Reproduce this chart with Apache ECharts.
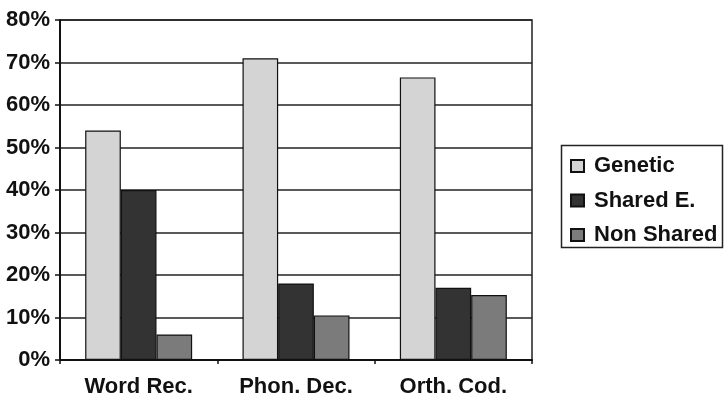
<!DOCTYPE html>
<html>
<head>
<meta charset="utf-8">
<script src="https://cdn.jsdelivr.net/npm/echarts@6/dist/echarts.min.js"></script>
<style>
  html, body { margin: 0; padding: 0; background: #fff; }
  #chart { width: 724px; height: 399px; }
</style>
</head>
<body>
<div id="chart"></div>
<script>
// Variance components (%) for three reading measures
const categories = ['Word Rec.', 'Phon. Dec.', 'Orth. Cod.'];
const seriesNames = ['Genetic', 'Shared E.', 'Non Shared'];
const genetic = [54, 71, 66.5];
const sharedE = [40, 18, 17];
const nonShared = [6, 10.5, 15.3];
const yTicks = [0, 10, 20, 30, 40, 50, 60, 70, 80];

const fills = ['#d4d4d4', '#333333', '#7b7b7b'];
const font = '"Liberation Sans", Arial, sans-serif';

const chart = echarts.init(document.getElementById('chart'), null, { renderer: 'canvas' });

const makeSeries = (name, data, color) => ({
  name: name,
  type: 'bar',
  data: data,
  barGap: '0%',
  barCategoryGap: '32%',
  itemStyle: { color: color, borderColor: '#111', borderWidth: 1.2 }
});

chart.setOption({
  animation: false,
  backgroundColor: '#fff',
  grid: {
    left: 60, right: 192, top: 20, bottom: 39,
    show: true, borderColor: '#222', borderWidth: 1.5, backgroundColor: 'transparent'
  },
  // frame around the legend
  graphic: [{
    type: 'rect',
    shape: { x: 561.5, y: 145.5, width: 161, height: 102 },
    style: { fill: 'none', stroke: '#222', lineWidth: 1.5 },
    silent: true
  }],
  legend: {
    orient: 'vertical',
    left: 570, top: 155,
    data: seriesNames,
    itemWidth: 13, itemHeight: 12, itemGap: 12.5,
    padding: 0,
    icon: 'rect',
    textStyle: { fontFamily: font, fontWeight: 'bold', fontSize: 22, color: '#111', padding: [0, 0, 0, 5] }
  },
  xAxis: {
    type: 'category',
    data: categories,
    axisLine: { lineStyle: { color: '#111', width: 2 } },
    axisTick: { show: true, interval: 0, length: 4, lineStyle: { color: '#111', width: 1.5 } },
    axisLabel: { fontFamily: font, fontWeight: 'bold', fontSize: 22, color: '#111', margin: 16, interval: 0 }
  },
  yAxis: {
    type: 'value',
    min: yTicks[0], max: yTicks[yTicks.length - 1], interval: 10,
    axisLine: { show: true, lineStyle: { color: '#111', width: 2 } },
    axisTick: { show: true, length: 5, lineStyle: { color: '#111', width: 1.5 } },
    axisLabel: { fontFamily: font, fontWeight: 'bold', fontSize: 22, color: '#111', margin: 10, formatter: '{value}%' },
    splitLine: { show: true, lineStyle: { color: '#222', width: 1.6 } }
  },
  series: [
    makeSeries(seriesNames[0], genetic, fills[0]),
    makeSeries(seriesNames[1], sharedE, fills[1]),
    makeSeries(seriesNames[2], nonShared, fills[2])
  ]
});
</script>
</body>
</html>
